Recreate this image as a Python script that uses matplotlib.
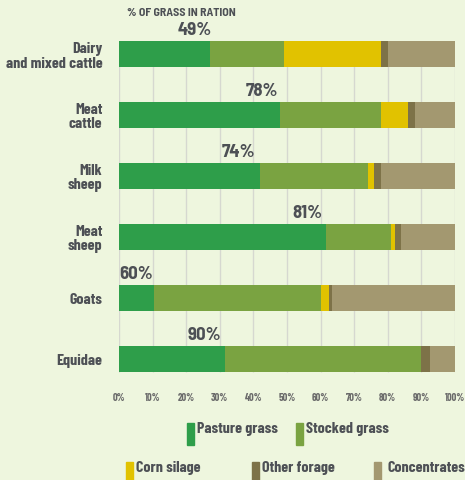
import numpy as np
import matplotlib
matplotlib.use('Agg')
import matplotlib.pyplot as plt
from matplotlib.patches import Rectangle

# data (percent of ration)
animals = ['Dairy\nand mixed cattle', 'Meat\ncattle', 'Milk\nsheep', 'Meat\nsheep', 'Goats', 'Equidae']
pasture = [27, 48, 42, 61.5, 10.5, 31.5]
stocked = [22, 30, 32, 19.5, 49.5, 58.5]
corn = [29, 8, 2, 1, 2.5, 0]
other = [2, 2, 2, 2, 1, 2.5]
concentrates = [20, 12, 22, 16, 36.5, 7.5]
grass_share = ['49%', '78%', '74%', '81%', '60%', '90%']
label_x = [22.6, 42.5, 35.7, 56, 5, 25.5]

series = [('Pasture grass', pasture, '#2e9e4a'),
          ('Stocked grass', stocked, '#7aa341'),
          ('Corn silage', corn, '#e1c200'),
          ('Other forage', other, '#7d7248'),
          ('Concentrates', concentrates, '#a39870')]

bg = '#eef6de'
txt = '#4d5055'
fam = ['Barlow Condensed', 'DejaVu Sans']
fam2 = ['Barlow Semi Condensed', 'Barlow Condensed', 'DejaVu Sans']

fig = plt.figure(figsize=(4.65, 4.81), dpi=100, facecolor=bg)
ax = fig.add_axes([119/465, 1-390.5/481, 336/465, 366/481])
ax.set_facecolor(bg)

y = np.arange(len(animals))
h = 0.41
ax.vlines(np.arange(0, 101, 10), -h/2, len(animals)-1+h/2, color='#d6d8d0', lw=1, zorder=0)

left = np.zeros(len(animals))
for name, vals, col in series:
    vals = np.array(vals, dtype=float)
    ax.barh(y, vals, left=left, height=h, color=col, zorder=2, linewidth=0)
    left += vals

for i, s in enumerate(grass_share):
    ax.text(label_x[i], y[i]-h/2-0.06, s, ha='center', va='bottom', fontsize=13.5,
            fontweight='bold', color=txt, family=fam2)

ax.set_xlim(0, 100)
ax.set_ylim(len(animals)-0.5, -0.5)
ax.set_yticks(y)
ax.set_yticklabels(animals, fontsize=11.5, fontweight='bold', color=txt, family=fam,
                   linespacing=1.0, ha='right')
ax.set_xticks(np.arange(0, 101, 10))
ax.set_xticklabels(['%d%%' % v for v in range(0, 101, 10)], fontsize=7.5,
                   fontweight='bold', color='#6a6a6a', family=fam)
ax.tick_params(axis='both', length=0)
ax.tick_params(axis='y', pad=12)
ax.tick_params(axis='x', pad=2)
for sp in ax.spines.values():
    sp.set_visible(False)

fig.text(127/465, 1-13/481, '% OF GRASS IN RATION', fontsize=8.5, fontweight='bold',
         color=txt, family=fam2, va='center')

# legend drawn by hand to copy the two-row layout
legend_pos = [(187, 424, 197), (296, 424, 306), (126, 463, 136), (252, 463, 262), (374, 463, 388)]
for (name, vals, col), (px, py, tx) in zip(series, legend_pos):
    fig.patches.append(Rectangle((px/465, 1-(py+22)/481), 7/465, 22/481,
                                 transform=fig.transFigure, color=col, figure=fig))
    fig.text(tx/465, 1-(py+5)/481, name, fontsize=11.5, fontweight='bold', color=txt,
             family=fam, va='center')

fig.savefig('out.png', dpi=100, facecolor=bg)
